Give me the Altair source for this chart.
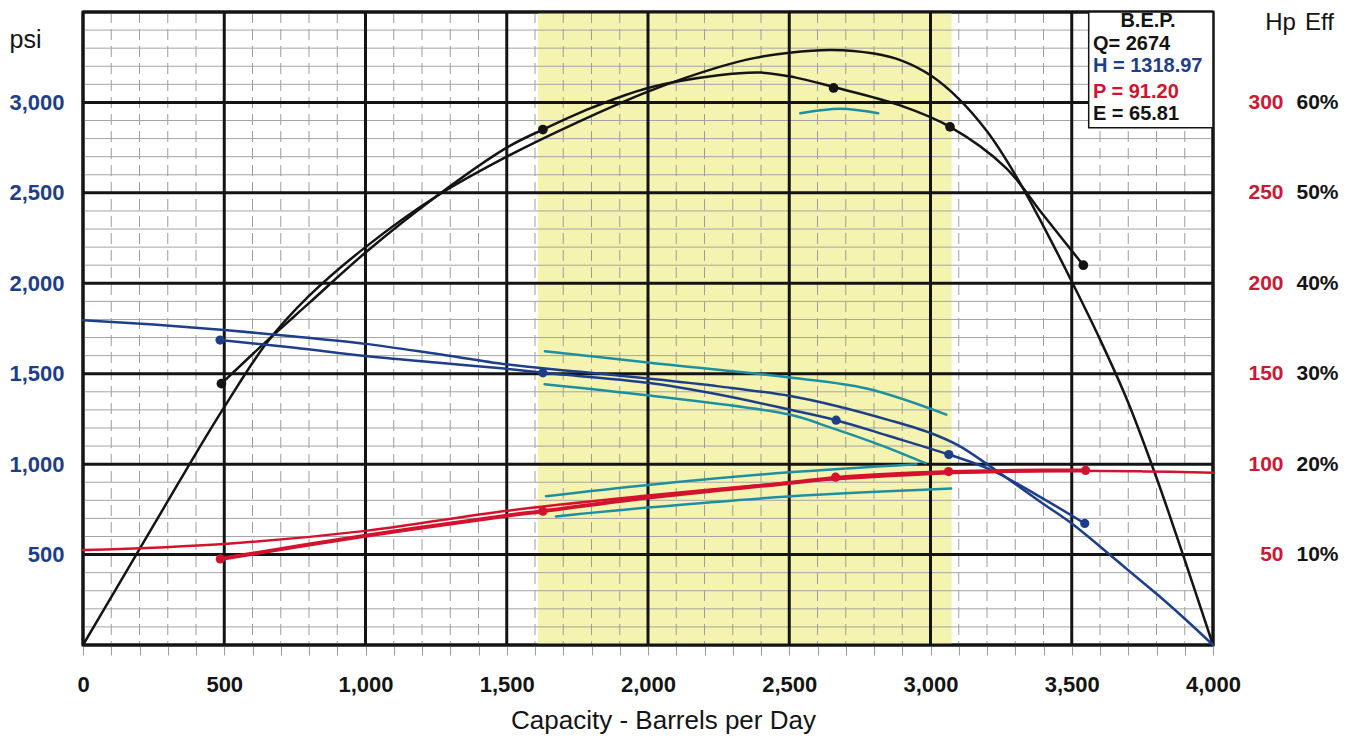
import altair as alt
import pandas as pd

FONT = "Liberation Sans"
NAVY = "#1d3f8a"
RED = "#d3132e"
TEAL = "#1e8fa2"
BLACK = "#141414"
YELLOW = "#f4f4b0"

# ---------------- axis / grid values ----------------
X_TICKS = list(range(0, 4001, 100))
X_MINOR = [v for v in X_TICKS if v % 500 != 0]
X_MAJOR = [0, 500, 1000, 1500, 2000, 2500, 3000, 3500, 4000]
Y_MINOR = [v for v in range(0, 3501, 100) if v % 500 != 0]
Y_MAJOR = [0, 500, 1000, 1500, 2000, 2500, 3000, 3500]
PSI_LABELS = [500, 1000, 1500, 2000, 2500, 3000]
HP_LABELS = [50, 100, 150, 200, 250, 300]
EFF_LABELS = [10, 20, 30, 40, 50, 60]

# ---------------- head (psi) ----------------
head_cat_q = [0, 250, 500, 750, 1000, 1250, 1500, 1750, 2000, 2250, 2500, 2674, 2850,
              3000, 3100, 3200, 3300, 3400, 3500, 3600, 3700, 3800, 3900, 4000]
head_cat = [1795, 1772, 1742, 1706, 1665, 1610, 1552, 1512, 1473, 1430, 1378, 1319, 1245,
            1172, 1102, 1000, 890, 780, 672, 545, 413, 283, 145, 0]
head_test_q = [485, 750, 1000, 1250, 1500, 1628, 2000, 2250, 2500, 2666, 2850, 3065, 3216, 3400, 3546]
head_test = [1686, 1643, 1598, 1562, 1527, 1505, 1450, 1385, 1302, 1243, 1157, 1053, 967, 808, 672]
head_tol_hi_q = [1635, 2007, 2502, 2774, 3056]
head_tol_hi = [1624, 1561, 1479, 1418, 1274]
head_tol_lo_q = [1634, 2006, 2500, 2652, 2828, 2983]
head_tol_lo = [1442, 1379, 1274, 1199, 1102, 1005]
head_dot_q = [485, 1628, 2666, 3065, 3546]
head_dot = [1686, 1505, 1243, 1053, 672]

# ---------------- power (Hp) ----------------
hp_cat_q = [0, 500, 1000, 1500, 2000, 2500, 2674, 3000, 3250, 3500, 3750, 4000]
hp_cat = [52.5, 55.9, 63.1, 74.2, 82.6, 89.9, 91.8, 94.6, 95.8, 96.3, 96.0, 95.3]
hp_test_q = [486, 1000, 1500, 1628, 2000, 2500, 2664, 3064, 3300, 3549]
hp_test = [47.6, 60.4, 71.5, 74.0, 81.6, 89.6, 92.4, 95.6, 96.3, 96.5]
hp_tol_hi_q = [1639, 2000, 2500, 2950]
hp_tol_hi = [82.3, 88.5, 95.5, 100.0]
hp_tol_lo_q = [1674, 2000, 2496, 3073]
hp_tol_lo = [71.1, 76.0, 82.1, 86.5]
hp_dot_q = [486, 1628, 2664, 3064, 3549]
hp_dot = [47.6, 74.0, 92.8, 95.9, 96.5]

# ---------------- efficiency (%) ----------------
eff_cat_q = [0, 100, 200, 300, 400, 500, 650, 800, 1000, 1250, 1500, 1750, 2000, 2250, 2375,
             2500, 2650, 2800, 2900, 3000, 3100, 3200, 3300, 3400, 3500, 3600, 3700, 3800, 3900, 4000]
eff_cat = [0, 5.3, 10.6, 15.9, 21.2, 26.3, 33.4, 38.6, 44.0, 49.6, 54.0, 57.8, 61.2, 63.9, 64.9,
           65.5, 65.8, 65.4, 64.6, 63.0, 60.4, 56.8, 52.0, 46.3, 40.2, 33.8, 26.8, 18.5, 9.4, 0]
eff_test_q = [490, 650, 800, 1000, 1250, 1500, 1628, 1800, 2000, 2250, 2400, 2516, 2657, 2890,
              3069, 3266, 3398, 3541]
eff_test = [28.9, 33.6, 37.8, 43.4, 49.6, 55.0, 57.0, 59.4, 61.6, 63.0, 63.3, 62.8, 61.7, 59.7,
            57.3, 52.8, 47.6, 42.0]
eff_tol_q = [2539, 2681, 2815]
eff_tol = [58.8, 59.3, 58.8]
eff_dot_q = [490, 1628, 2657, 3069, 3541]
eff_dot = [28.9, 57.0, 61.6, 57.3, 42.0]

# ---------------- annotations ----------------
band_q = [1610, 3075]
bep_box_q = [3560, 4000]
bep_box_psi = [2860, 3500]
bep_lines = ["Q= 2674", "H = 1318.97", "P = 91.20", "E = 65.81"]
bep_line_colors = [BLACK, NAVY, RED, BLACK]
bep_line_psi = [3321, 3199, 3055, 2934]
bep_title = "B.E.P."

W, H = 1130, 633

XS = alt.Scale(domain=[0, 4000], nice=False, zero=False)
X_AXIS = alt.Axis(
    values=X_TICKS,
    labelExpr="datum.value % 500 === 0 ? format(datum.value, ',') : ''",
    grid=False, domain=False, ticks=True, tickSize=10, tickColor="#9a9a9a", tickWidth=1,
    labelFont=FONT, labelFontSize=22, labelFontWeight="bold", labelColor=BLACK,
    labelPadding=19, labelFlush=False, labelOverlap=False,
    title="Capacity - Barrels per Day", titleFont=FONT, titleFontSize=26,
    titleFontWeight="normal", titleColor=BLACK, titleX=580, titleY=75,
    titleBaseline="middle", titleAlign="center",
)
PSI_AXIS = alt.Axis(
    orient="left", values=PSI_LABELS, labelExpr="format(datum.value, ',')", grid=False,
    domain=False, ticks=False, labelOverlap=False,
    labelPadding=19, labelFont=FONT, labelFontSize=22, labelFontWeight="bold", labelColor=NAVY,
    title="psi", titleAngle=0, titleX=-58, titleY=27, titleFont=FONT, titleFontSize=25,
    titleFontWeight="normal", titleColor=BLACK, titleBaseline="middle", titleAlign="center",
)
HP_AXIS = alt.Axis(
    orient="right", values=HP_LABELS, grid=False, domain=False, ticks=False, labelOverlap=False,
    labelAlign="right", labelPadding=70, labelFont=FONT, labelFontSize=21,
    labelFontWeight="bold", labelColor="#cc1834",
    title="Hp", titleAngle=0, titleX=67, titleY=10, titleFont=FONT, titleFontSize=24,
    titleFontWeight="normal", titleColor=BLACK, titleBaseline="middle", titleAlign="center",
)
EFF_AXIS = alt.Axis(
    orient="right", values=EFF_LABELS, labelExpr="datum.value + '%'", grid=False,
    domain=False, ticks=False, labelOverlap=False, labelAlign="left", labelPadding=83,
    labelFont=FONT, labelFontSize=21, labelFontWeight="bold", labelColor=BLACK,
    title="Eff", titleAngle=0, titleX=106, titleY=10, titleFont=FONT, titleFontSize=24,
    titleFontWeight="normal", titleColor=BLACK, titleBaseline="middle", titleAlign="center",
)


def xq(field="q"):
    return alt.X(f"{field}:Q", scale=XS, axis=X_AXIS)


def yscale(kind, field="v", axis=None):
    dom = {"psi": [0, 3500], "hp": [0, 350], "eff": [0, 70]}[kind]
    return alt.Y(f"{field}:Q", scale=alt.Scale(domain=dom, nice=False, zero=False), axis=axis)


def df(q, v):
    return pd.DataFrame({"q": q, "v": v})


def line(q, v, kind, color, width=2.5, axis=None):
    return alt.Chart(df(q, v)).mark_line(
        color=color, strokeWidth=width, interpolate="catmull-rom", strokeCap="round"
    ).encode(x=xq(), y=yscale(kind, axis=axis))


def dots(q, v, kind, color, size=95):
    return alt.Chart(df(q, v)).mark_circle(color=color, size=size, opacity=1).encode(
        x=xq(), y=yscale(kind)
    )


layers = []

# yellow operating band
band = alt.Chart(pd.DataFrame({"q1": [band_q[0]], "q2": [band_q[1]], "v1": [0], "v2": [3500]}))
layers.append(
    band.mark_rect(color=YELLOW, opacity=1).encode(
        x=xq("q1"), x2="q2", y=yscale("psi", "v1"), y2="v2"
    )
)

# minor grid
layers.append(
    alt.Chart(pd.DataFrame({"q": X_MINOR})).mark_rule(
        color="#9c9c9c", strokeWidth=1, strokeDash=[11, 6]
    ).encode(x=xq())
)
layers.append(
    alt.Chart(pd.DataFrame({"v": Y_MINOR})).mark_rule(color="#a4a4a4", strokeWidth=1).encode(
        y=yscale("psi", axis=PSI_AXIS)
    )
)
# major grid
layers.append(
    alt.Chart(pd.DataFrame({"q": X_MAJOR})).mark_rule(color=BLACK, strokeWidth=3).encode(x=xq())
)
layers.append(
    alt.Chart(pd.DataFrame({"v": Y_MAJOR})).mark_rule(color=BLACK, strokeWidth=3).encode(
        y=yscale("psi")
    )
)

# efficiency curves (black)
layers.append(line(eff_cat_q, eff_cat, "eff", BLACK, 2.5, axis=EFF_AXIS))
layers.append(line(eff_test_q, eff_test, "eff", BLACK, 2.5))
layers.append(line(eff_tol_q, eff_tol, "eff", TEAL, 2.5))

# head curves (blue)
layers.append(line(head_tol_hi_q, head_tol_hi, "psi", TEAL, 2.5))
layers.append(line(head_tol_lo_q, head_tol_lo, "psi", TEAL, 2.5))
layers.append(line(head_cat_q, head_cat, "psi", NAVY, 2.5))
layers.append(line(head_test_q, head_test, "psi", NAVY, 2.5))

# power curves (red)
layers.append(line(hp_tol_hi_q, hp_tol_hi, "hp", TEAL, 2.5))
layers.append(line(hp_tol_lo_q, hp_tol_lo, "hp", TEAL, 2.5))
layers.append(line(hp_cat_q, hp_cat, "hp", RED, 2.5, axis=HP_AXIS))
layers.append(line(hp_test_q, hp_test, "hp", RED, 4))

# test points
layers.append(dots(eff_dot_q, eff_dot, "eff", BLACK))
layers.append(dots(head_dot_q, head_dot, "psi", NAVY, 85))
layers.append(dots(hp_dot_q, hp_dot, "hp", RED, 85))

# B.E.P. box
box = alt.Chart(pd.DataFrame({"q1": [bep_box_q[0]], "q2": [bep_box_q[1]],
                              "v1": [bep_box_psi[0]], "v2": [bep_box_psi[1]]}))
layers.append(
    box.mark_rect(fill="white", stroke=BLACK, strokeWidth=1.5).encode(
        x=xq("q1"), x2="q2", y=yscale("psi", "v1"), y2="v2"
    )
)
layers.append(
    alt.Chart(pd.DataFrame({"q": [3770], "v": [3453], "t": [bep_title]})).mark_text(
        font=FONT, fontSize=20, fontWeight="bold", align="center", baseline="middle", color=BLACK
    ).encode(x=xq(), y=yscale("psi"), text="t:N")
)
layers.append(
    alt.Chart(pd.DataFrame({"q": [3575] * 4, "v": bep_line_psi, "t": bep_lines,
                            "c": bep_line_colors})).mark_text(
        font=FONT, fontSize=20, fontWeight="bold", align="left", baseline="middle"
    ).encode(x=xq(), y=yscale("psi"), text="t:N", color=alt.Color("c:N", scale=None))
)

chart = (
    alt.layer(*layers)
    .resolve_scale(y="independent")
    .properties(
        width=W, height=H,
        padding={"left": 75, "top": 4, "right": 130, "bottom": 96},
        autosize=alt.AutoSizeParams(type="none"),
        background="white",
    )
    .configure_view(stroke=BLACK, strokeWidth=3)
)

chart.save("out.html", embed_options={"renderer": "svg", "actions": False})
